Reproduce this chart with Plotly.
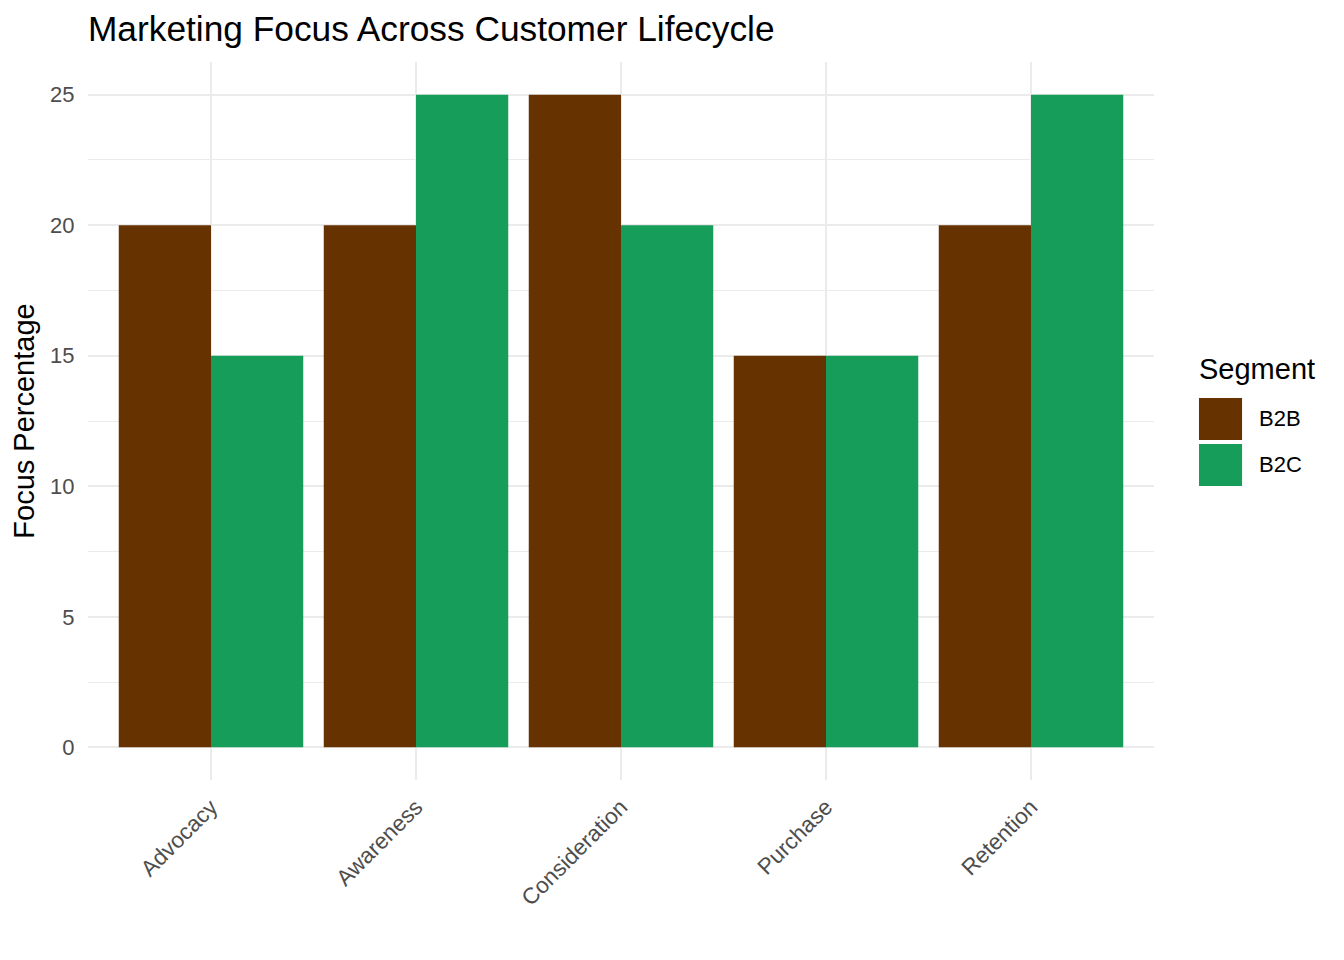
import plotly.graph_objects as go

stages = ["Advocacy", "Awareness", "Consideration", "Purchase", "Retention"]
b2b = [20, 20, 25, 15, 20]
b2c = [15, 25, 20, 15, 25]
segments = ["B2B", "B2C"]
colors = {"B2B": "#663300", "B2C": "#169D5A"}

fig = go.Figure()
for name, vals in zip(segments, [b2b, b2c]):
    fig.add_trace(go.Bar(x=stages, y=vals, name=name, marker_color=colors[name],
                         marker_line_width=0, showlegend=False))

# ggplot-style legend drawn by hand (big square keys)
fig.add_annotation(text="Segment", xref="paper", yref="paper", x=1.040, y=0.572,
                   xanchor="left", yanchor="middle", showarrow=False,
                   font=dict(size=29, color="black"))
key_tops = [0.532, 0.468]
for name, top in zip(segments, key_tops):
    fig.add_shape(type="rect", xref="paper", yref="paper",
                  x0=1.0422, x1=1.0826, y0=top - 0.0585, y1=top,
                  fillcolor=colors[name], line_width=0)
    fig.add_annotation(text=name, xref="paper", yref="paper", x=1.0965, y=top - 0.029,
                       xanchor="left", yanchor="middle", showarrow=False,
                       font=dict(size=22, color="black"))

grid = "#EBEBEB"
fig.update_layout(
    width=1344, height=960,
    font=dict(family="Liberation Sans, Arial, sans-serif"),
    title=dict(text="Marketing Focus Across Customer Lifecycle", x=0.0595, xanchor="left",
               y=0.979, yanchor="middle", font=dict(size=35.3, color="black")),
    barmode="group", bargap=0.1, bargroupgap=0,
    plot_bgcolor="white", paper_bgcolor="white",
    margin=dict(l=80, r=198, t=54, b=188),
    xaxis=dict(showgrid=True, gridcolor=grid, gridwidth=2, tickangle=-45, automargin=False,
               tickfont=dict(size=22.5, color="#4D4D4D"), ticks="outside", ticklen=4,
               tickcolor="rgba(0,0,0,0)", range=[-0.6, 4.6], zeroline=False),
    yaxis=dict(title=dict(text="Focus Percentage", font=dict(size=29, color="black"), standoff=12),
               range=[-1.25, 26.25], tickvals=[0, 5, 10, 15, 20, 25], automargin=False,
               showgrid=True, gridcolor=grid, gridwidth=2, zeroline=False,
               tickfont=dict(size=22, color="#4D4D4D"), ticks="outside", ticklen=8,
               tickcolor="rgba(0,0,0,0)",
               minor=dict(showgrid=True, gridcolor=grid, gridwidth=1, dtick=2.5, tick0=2.5)),
)

fig.write_html("out.html")
